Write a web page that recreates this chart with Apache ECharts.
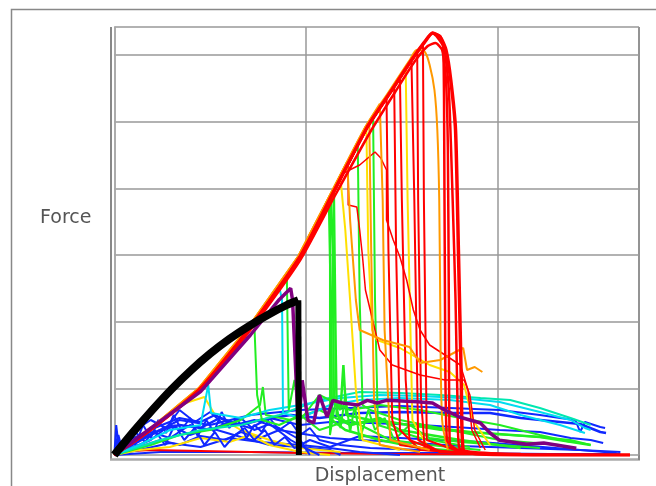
<!DOCTYPE html>
<html>
<head>
<meta charset="utf-8">
<script src="https://cdn.jsdelivr.net/npm/echarts@6/dist/echarts.min.js"></script>
<style>
html, body { margin: 0; padding: 0; background: #fff; }
#chart { width: 656px; height: 486px; }
</style>
</head>
<body>
<div id="chart"></div>
<script>
// axis units: one grid cell = 100 on both axes (no tick labels in the picture)
var xTicks = [0, 100, 200];
var yTicks = [0, 100, 200, 300, 400, 500, 600];

// common loading path shared by the specimens that go high
var rise = [[0,0],[19,38],[45,100],[71,192],[97,298],[115,398],[132,492],[144,544],[155,592],[162,620],[166,633]];
// left edge of the same bundle (the orange ones run there)
var riseLeft = [[0,0],[18,38],[44,100],[70,192],[96,298],[114,398],[131,492],[143,544],[154,592],[161,620],[165,630]];

// what each specimen does after it leaves the common path (first point = break)
var greenA = [[112,381],[113,232.5],[113.5,52.5],[120.5,37.5],[138.5,22.5],[159.5,10.5],[185.5,4.5]];
var greenB = [[114.5,395],[115.5,157.5],[116,60],[123,45],[138.5,55.5],[149,37.5],[180.5,22.5],[212,10.5]];
var greenC = [[127,464],[128,232.5],[129.5,75],[133.5,67.5],[149,52.5],[175,37.5],[201,22.5],[232.5,15]];
var greenD = [[135,505],[136,232.5],[137.5,45],[159.5,25.5],[185.5,12]];
var greenE = [[113,387],[114,307.5],[114.5,82.5],[118,67.5],[119.5,135],[121,60],[133.5,52.5],[154,45],[185.5,34.5],[222,27],[248.5,15]];
var greenF = [[73,200],[74.5,90],[77,52.5],[86,45],[97,60],[107,37.5],[123,52.5],[144,22.5],[164.5,15],[191,7.5]];
var greenG = [[90,270],[91,67.5],[94,112.5],[97,52.5],[107,90],[123,67.5],[138.5,75],[159.5,67.5],[180.5,55.5],[201,45],[222,30],[238,19.5]];
var greenH = [[112.5,384],[112.5,30],[115.5,82.5],[118,40.5],[120.5,90],[123,34.5],[125.5,75],[128,22.5],[132.5,67.5],[136,37.5],[141,55.5],[146,22.5],[154,45],[164.5,25.5],[180.5,19.5],[201,15],[222,10.5]];
var cyanB = [[86,253],[87.5,232.5],[88,63],[97,55.5],[112.5,75],[128,82.5],[149,85.5],[175,82.5],[196,75],[212,60],[232.5,45],[245.5,33]];
var yellowA = [[118,415],[120.5,337.5],[123,232.5],[126,97.5],[129.5,22.5],[149,7.5]];
var yellowB = [[131.5,489],[132.5,307.5],[134.5,187.5],[137,172.5],[149,160.5],[164.5,135],[175,124.5],[182.5,105],[187,52.5],[196,15]];
var yellowC = [[152,579],[153,382.5],[155.5,52.5],[164.5,7.5]];
var orangeA = [[121.5,440],[123,352.5],[126,232.5],[128,187.5],[140,172.5],[154,162],[159.5,138],[170,142.5],[182,160.5],[184,127.5],[188,132],[192,124.5]];
var orangeB = [[133,500],[134,307.5],[135.5,82.5],[138.5,15],[159.5,4.5]];
var orangeC = [[138.5,527],[140,382.5],[141,187.5],[144,22.5],[164.5,7.5]];
var orangeD = [[158,608],[162,604.5],[164.5,585],[167,547.5],[168.5,487.5],[169.5,382.5],[170,232.5],[171,52.5],[174,7.5]];
var redA = [[142,535],[143,307.5],[145,52.5],[149,15],[175,4.5],[212,0]];
var redB = [[146,553],[147,307.5],[149,37.5],[159.5,7.5],[191,3]];
var redC = [[155.5,594],[156.5,382.5],[158.5,22.5],[170,4.5],[201,1.5]];
var redD = [[161,616],[161.5,382.5],[163,22.5],[180.5,4.5]];
var redJ = [[149,566],[150,382.5],[152,112.5],[154,22.5],[170,4.5]];
var redK = [[158,604],[158.5,382.5],[160,82.5],[162,7.5],[185.5,1.5]];
var redPeakA = [[170,628.5],[171.5,615],[172,532.5],[172.5,232.5],[173.5,22.5],[180.5,4.5]];
var redPeakB = [[170,627],[173,607.5],[175.5,562.5],[178,487.5],[179.5,307.5],[181,112.5],[182,7.5],[191,1.5],[232.5,0],[269,0]];
var redPeakC = [[168,628.5],[172,610.5],[174.5,547.5],[176.5,382.5],[178,232.5],[179,82.5],[180,10.5],[212,1.5]];
var peakInner = [[0,0],[45,97.5],[71,187.5],[97,292.5],[115,388.5],[133.5,484.5],[146.5,544.5],[156.5,589.5],[163.5,613.5],[167.5,618],[171,607.5],[173,562.5],[174,457.5],[174.5,232.5],[175,15],[185.5,3]];
var redWanderA = [[119.5,423],[128,435],[136,454.5],[139,445.5],[142,427.5],[142,352.5],[145.5,322.5],[149,297],[152.5,262.5],[156,217.5],[159.5,187.5],[164.5,165],[172.5,150],[180.5,135],[184.5,97.5],[186.5,37.5],[191,10.5]];
var redWanderB = [[122,437],[122,375],[126.5,372],[128,337.5],[129.5,297],[131,247.5],[133.5,217.5],[136,187.5],[138.5,157.5],[145,135],[159.5,120],[172.5,112.5],[182.5,112.5],[185.5,90],[188,37.5],[193.5,7.5]];
var redBase = [[0,4.5],[19,7.5],[45,6],[97,3],[149,1.5],[269,0]];

// specimens that never go high
var blue1 = [[0,0],[2,30],[4,7.5],[13,22.5],[24,37.5],[34,45],[45,40.5],[55,55.5],[66,45],[76,52.5],[92,60],[107,55.5],[128,63],[149,64.5],[175,63],[196,63],[212,55.5],[232.5,49.5],[243,46.5],[253.5,34.5],[256.5,33]];
var blue2 = [[0,0],[8,15],[19,34.5],[29,25.5],[39.5,45],[50,37.5],[60,49.5],[71,40.5],[81,55.5],[97,45],[112.5,49.5],[133.5,48],[159.5,45],[185.5,40.5],[201,37.5],[222,34.5],[238,25.5],[248.5,22.5],[255,18]];
var blue3 = [[0,0],[13,12],[24,22.5],[34,15],[45,28.5],[58,22.5],[66,34.5],[76,25.5],[86,37.5],[102,30],[112.5,25.5],[128,22.5],[149,19.5],[180.5,13.5],[212,10.5],[243,7.5],[262,3]];
var blue4 = [[0,0],[8,22.5],[21,40.5],[34,55.5],[45,49.5],[52.5,60],[63,45],[73,52.5],[86,40.5],[97,22.5],[102,0]];
var blue5 = [[0,0],[19,22.5],[29,45],[39.5,30],[50,40.5],[66,27],[81,15],[97,12],[112.5,7.5],[118,0]];
var blue6 = [[0,0],[13,7.5],[29,18],[45,12],[60,25.5],[76,19.5],[97,15],[112.5,10.5],[128,4.5],[149,0]];
var blue7 = [[0,0],[24,4.5],[71,4.5],[123,3],[175,3],[227,1.5],[264,1.5]];
var blue8 = [[0,0],[19,30],[34,52.5],[50,45],[71,60],[97,67.5],[123,70.5],[149,73.5],[175,70.5],[201,67.5],[222,60],[232.5,55.5],[240.5,52.5],[243,34.5],[245.5,49.5],[253.5,42],[256,40.5]];
var blue9 = [[0,0],[1,45],[2.5,7.5],[5.5,22.5],[11,37.5],[19,52.5],[27,40.5],[34,67.5],[42,49.5],[50,64.5],[58,43.5],[66,55.5],[73,37.5],[81,46.5],[92,22.5],[99.5,10.5],[107,0]];
var blue10 = [[0,0],[1.5,22.5],[3.5,4.5],[7,27],[11,15],[15,45],[19,25.5],[23,52.5],[27,33],[31,60],[35,37.5],[39.5,55.5],[43.5,28.5],[48,52.5],[52,34.5],[56,64.5],[60,40.5],[64,55.5],[69,25.5],[73,45],[77,34.5],[81,55.5],[86,37.5],[92,49.5],[97,30],[102,40.5],[107,22.5],[118,15],[133.5,10.5],[159.5,7.5]];
var blue11 = [[0,0],[5.5,12],[11,34.5],[16,19.5],[21,37.5],[26.5,15],[31.5,45],[36.5,22.5],[42,40.5],[47,15],[52.5,34.5],[57.5,12],[63,30],[68,40.5],[73,22.5],[78.5,37.5],[83.5,15],[89,27],[94,10.5],[102,22.5],[112.5,12],[128,28.5],[149,25.5],[170,22.5],[191,19.5],[217,13.5],[243,7.5],[264,4.5]];
var cyan1 = [[0,0],[13,15],[29,37.5],[45,45],[49,105],[50.5,63],[66,55.5],[81,67.5],[97,75],[118,85.5],[138.5,90],[159.5,88.5],[180.5,85.5],[201,79.5],[222,64.5],[238,52.5],[245.5,40.5],[248.5,37.5]];
var teal1 = [[0,0],[24,22.5],[45,37.5],[66,45],[86,60],[107,82.5],[128,94.5],[149,93],[170,90],[191,85.5],[206.5,82.5],[222,70.5],[238,55.5],[248.5,45]];
var greenLow = [[0,0],[19,15],[34,30],[50,37.5],[66,52.5],[76,75],[77.5,102],[79,60],[92,52.5],[107,67.5],[123,45],[138.5,52.5],[154,45],[170,37.5],[191,33],[206.5,30],[222,27],[238,22.5],[248.5,15]];
var yellowLow1 = [[0,0],[13,7.5],[29,12],[45,25.5],[60,19.5],[71,30],[81,15],[97,4.5],[112.5,0]];
var yellowLow2 = [[0,0],[19,37.5],[34,75],[47,87],[52.5,60],[66,37.5],[81,22.5],[97,10.5],[118,4.5]];

// highlighted specimens
var purple = [[0,0],[45,95],[71,180],[86,233],[92,250],[93,232],[96,38],[98,112],[101,52],[104,48],[107,90],[111,57],[114,82],[119,78],[127,75],[132,82],[137,78],[142,82],[158,80],[166,78],[172,68],[180,57],[191,48],[196,33],[201,22],[215,16],[224,18],[241,10]];
var blackArc = [[0,0],[10,35],[20,68],[30,99],[40,127],[50,152],[60,174],[70,193],[80,210],[90,225],[96,232]];
var blackDrop = [[96,232],[96.3,0]];

var RED = '#ff0000', ORANGE = '#ff9900', YELLOW = '#ffe000', GREEN = '#22ee22',
	CYAN = '#00dcf0', TEAL = '#00e8b0', BLUE = '#1028ff';

function fromPath(path, tail) {
	var bx = tail[0][0];
	return path.filter(function (p) { return p[0] < bx; }).concat(tail);
}
function fromRise(tail) { return fromPath(rise, tail); }
function fromLeft(tail) { return fromPath(riseLeft, tail); }

function line(data, color, width, smooth) {
	return {
		type: 'line',
		data: data,
		symbol: 'none',
		smooth: smooth || false,
		silent: true,
		lineStyle: { color: color, width: width || 2 }
	};
}

var series = [
	line(blue7, BLUE), line(redBase, RED),
	line(blue3, BLUE), line(blue6, BLUE), line(blue5, BLUE), line(yellowLow1, YELLOW),
	line(yellowLow2, YELLOW), line(blue4, BLUE), line(blue11, BLUE), line(blue9, BLUE), line(blue10, BLUE),
	line(blue2, BLUE), line(blue1, BLUE, 2.5), line(blue8, BLUE), line(greenLow, GREEN), line(teal1, TEAL),
	line(cyan1, CYAN), line(fromRise(cyanB), CYAN), line(fromRise(greenF), GREEN),
	line(fromRise(greenG), GREEN), line(fromRise(greenH), GREEN),
	line(fromRise(greenA), GREEN, 2.5), line(fromRise(greenE), GREEN, 2.5), line(fromRise(greenB), GREEN, 2.5),
	line(fromRise(greenC), GREEN), line(fromRise(greenD), GREEN),
	line(fromRise(yellowA), YELLOW), line(fromRise(yellowB), YELLOW), line(fromRise(yellowC), YELLOW),
	line(fromRise(redWanderA), RED, 1.5), line(fromRise(redWanderB), RED, 1.5),
	line(fromRise(redA), RED), line(fromRise(redB), RED), line(fromRise(redJ), RED),
	line(fromRise(redC), RED), line(fromRise(redK), RED), line(fromRise(redD), RED),
	line(fromLeft(orangeA), ORANGE), line(fromLeft(orangeB), ORANGE), line(fromLeft(orangeC), ORANGE),
	line(fromLeft(orangeD), ORANGE, 2, 0.3),
	line(peakInner, RED, 2.5, 0.2),
	line(fromRise(redPeakC), RED, 2.5, 0.2), line(fromRise(redPeakA), RED, 2.5, 0.2),
	line(fromRise(redPeakB), RED, 3.5, 0.2),
	line(purple, '#800080', 3.5),
	line(blackArc, '#000000', 8, 0.3),
	line(blackDrop, '#000000', 6)
];

var chart = echarts.init(document.getElementById('chart'));
var option = {
	animation: false,
	backgroundColor: '#ffffff',
	grid: { left: 114.3, right: 17, top: 27, bottom: 31 },
	xAxis: {
		type: 'value',
		min: xTicks[0],
		max: 273.7,
		interval: xTicks[1] - xTicks[0],
		axisLine: { show: false },
		axisTick: { show: false },
		axisLabel: { show: false },
		splitLine: { show: true, lineStyle: { color: '#999', width: 1.5 } }
	},
	yAxis: {
		type: 'value',
		min: yTicks[0],
		max: 642,
		interval: yTicks[1] - yTicks[0],
		axisLine: { show: true, lineStyle: { color: '#aaa', width: 1.5 } },
		axisTick: { show: false },
		axisLabel: { show: false },
		splitLine: { show: true, lineStyle: { color: '#999', width: 1.5 } }
	},
	graphic: [
		{ type: 'polyline', shape: { points: [[660, 9.5], [11.5, 9.5], [11.5, 490]] },
			style: { stroke: '#888', lineWidth: 1.5, fill: null } },
		{ type: 'line', shape: { x1: 111, y1: 27, x2: 111, y2: 460 }, style: { stroke: '#888', lineWidth: 2 } },
		{ type: 'line', shape: { x1: 110, y1: 459.5, x2: 640, y2: 459.5 }, style: { stroke: '#aaa', lineWidth: 2.5 } },
		{ type: 'line', shape: { x1: 639, y1: 27, x2: 639, y2: 460 }, style: { stroke: '#888', lineWidth: 2 } },
		{ type: 'text', x: 40, y: 218,
			style: { text: 'Force', font: '19px "DejaVu Sans"', fill: '#555', textVerticalAlign: 'middle' } },
		{ type: 'text', x: 380, y: 476,
			style: { text: 'Displacement', font: '19px "DejaVu Sans"', fill: '#555', textAlign: 'center', textVerticalAlign: 'middle' } }
	],
	series: series
};
chart.setOption(option);
</script>
</body>
</html>
